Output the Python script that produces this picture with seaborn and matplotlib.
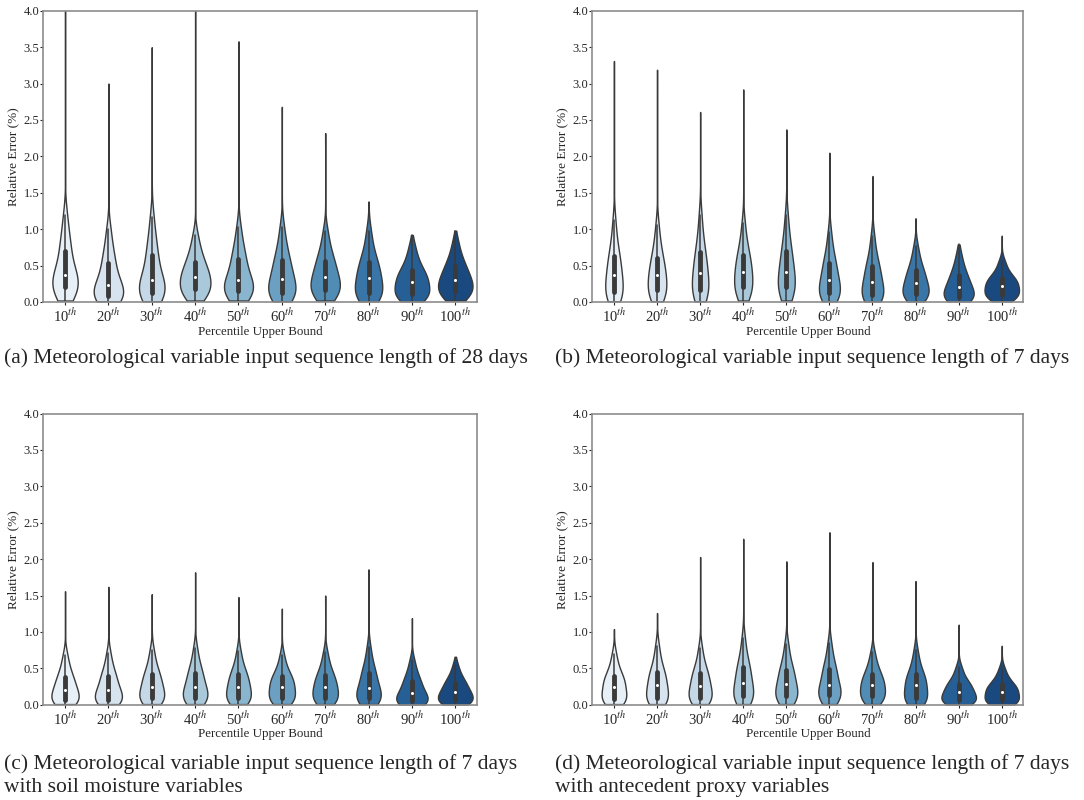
import numpy as np
import pandas as pd
import seaborn as sns
import matplotlib.pyplot as plt

# percentile buckets on the x axis
percentiles = ["10", "20", "30", "40", "50", "60", "70", "80", "90", "100"]
tick_labels = [p + r"$^{th}$" for p in percentiles]

# relative error (%) per bucket: 20 quantile levels
# (2.5%, 7.5%, ... 97.5%) followed by the single largest error
err_28d = [
    [0.02, 0.07, 0.11, 0.15, 0.18, 0.20, 0.24, 0.28, 0.31, 0.34, 0.37, 0.41, 0.47, 0.54, 0.62, 0.70, 0.78, 0.88, 1.00, 1.20, 4.1],
    [0.01, 0.03, 0.04, 0.06, 0.07, 0.08, 0.11, 0.15, 0.18, 0.21, 0.24, 0.28, 0.34, 0.41, 0.47, 0.54, 0.61, 0.70, 0.82, 1.00, 3.0],
    [0.01, 0.04, 0.07, 0.10, 0.12, 0.13, 0.17, 0.21, 0.24, 0.27, 0.30, 0.35, 0.42, 0.50, 0.57, 0.65, 0.73, 0.83, 0.96, 1.17, 3.5],
    [0.02, 0.06, 0.10, 0.14, 0.16, 0.18, 0.22, 0.26, 0.29, 0.32, 0.35, 0.38, 0.42, 0.46, 0.50, 0.55, 0.61, 0.68, 0.77, 0.92, 4.1],
    [0.02, 0.05, 0.09, 0.12, 0.14, 0.15, 0.19, 0.22, 0.25, 0.28, 0.30, 0.35, 0.41, 0.47, 0.53, 0.59, 0.66, 0.74, 0.85, 1.03, 3.58],
    [0.01, 0.04, 0.07, 0.10, 0.12, 0.13, 0.17, 0.21, 0.25, 0.29, 0.32, 0.37, 0.42, 0.48, 0.53, 0.58, 0.65, 0.74, 0.85, 1.03, 2.68],
    [0.02, 0.06, 0.10, 0.13, 0.15, 0.17, 0.21, 0.25, 0.28, 0.31, 0.34, 0.38, 0.43, 0.48, 0.53, 0.57, 0.63, 0.71, 0.81, 0.97, 2.32],
    [0.01, 0.04, 0.07, 0.09, 0.11, 0.12, 0.17, 0.22, 0.26, 0.30, 0.33, 0.37, 0.42, 0.47, 0.51, 0.55, 0.61, 0.70, 0.81, 0.98, 1.38],
    [0.01, 0.04, 0.06, 0.08, 0.10, 0.11, 0.15, 0.19, 0.22, 0.25, 0.28, 0.31, 0.34, 0.37, 0.40, 0.44, 0.49, 0.56, 0.64, 0.77, 0.92],
    [0.02, 0.06, 0.09, 0.12, 0.14, 0.15, 0.19, 0.22, 0.25, 0.28, 0.30, 0.33, 0.37, 0.41, 0.45, 0.49, 0.54, 0.61, 0.69, 0.83, 0.98],
]
err_7d = [
    [0.01, 0.04, 0.07, 0.10, 0.12, 0.14, 0.19, 0.24, 0.29, 0.33, 0.37, 0.42, 0.47, 0.53, 0.58, 0.63, 0.70, 0.80, 0.92, 1.12, 3.31],
    [0.01, 0.05, 0.08, 0.12, 0.14, 0.16, 0.21, 0.26, 0.30, 0.34, 0.37, 0.41, 0.46, 0.51, 0.56, 0.61, 0.68, 0.77, 0.88, 1.06, 3.19],
    [0.01, 0.05, 0.08, 0.12, 0.14, 0.16, 0.22, 0.27, 0.32, 0.36, 0.40, 0.45, 0.51, 0.57, 0.62, 0.68, 0.76, 0.86, 0.99, 1.20, 2.61],
    [0.02, 0.07, 0.11, 0.15, 0.18, 0.21, 0.26, 0.30, 0.34, 0.38, 0.41, 0.46, 0.51, 0.56, 0.60, 0.65, 0.72, 0.80, 0.91, 1.09, 2.92],
    [0.02, 0.07, 0.11, 0.15, 0.18, 0.20, 0.25, 0.30, 0.34, 0.38, 0.41, 0.47, 0.53, 0.59, 0.64, 0.70, 0.78, 0.88, 1.00, 1.20, 2.37],
    [0.01, 0.04, 0.07, 0.09, 0.11, 0.12, 0.16, 0.20, 0.24, 0.27, 0.30, 0.35, 0.40, 0.45, 0.50, 0.54, 0.60, 0.69, 0.79, 0.96, 2.05],
    [0.01, 0.03, 0.05, 0.07, 0.08, 0.09, 0.13, 0.17, 0.21, 0.25, 0.28, 0.32, 0.37, 0.42, 0.46, 0.50, 0.56, 0.64, 0.75, 0.91, 1.73],
    [0.01, 0.04, 0.06, 0.08, 0.10, 0.11, 0.14, 0.17, 0.20, 0.23, 0.26, 0.29, 0.33, 0.37, 0.40, 0.44, 0.49, 0.56, 0.64, 0.77, 1.15],
    [0.01, 0.02, 0.04, 0.05, 0.06, 0.07, 0.10, 0.13, 0.15, 0.18, 0.20, 0.23, 0.27, 0.30, 0.33, 0.37, 0.42, 0.48, 0.55, 0.67, 0.79],
    [0.01, 0.04, 0.06, 0.08, 0.09, 0.10, 0.13, 0.16, 0.18, 0.20, 0.22, 0.24, 0.27, 0.29, 0.31, 0.33, 0.36, 0.41, 0.47, 0.56, 0.91],
]
err_7d_soil = [
    [0.01, 0.02, 0.04, 0.05, 0.06, 0.07, 0.10, 0.13, 0.16, 0.19, 0.21, 0.24, 0.28, 0.31, 0.35, 0.38, 0.43, 0.49, 0.57, 0.69, 1.56],
    [0.01, 0.02, 0.04, 0.05, 0.06, 0.07, 0.10, 0.13, 0.15, 0.18, 0.20, 0.24, 0.28, 0.32, 0.36, 0.39, 0.44, 0.50, 0.58, 0.71, 1.62],
    [0.01, 0.03, 0.05, 0.07, 0.08, 0.09, 0.12, 0.16, 0.19, 0.22, 0.24, 0.28, 0.32, 0.36, 0.39, 0.42, 0.47, 0.54, 0.62, 0.75, 1.52],
    [0.01, 0.03, 0.05, 0.07, 0.09, 0.10, 0.13, 0.16, 0.19, 0.22, 0.24, 0.28, 0.32, 0.37, 0.41, 0.44, 0.49, 0.56, 0.64, 0.78, 1.82],
    [0.01, 0.03, 0.05, 0.07, 0.09, 0.10, 0.13, 0.17, 0.20, 0.23, 0.25, 0.29, 0.33, 0.36, 0.39, 0.42, 0.47, 0.53, 0.61, 0.74, 1.48],
    [0.01, 0.03, 0.05, 0.07, 0.09, 0.10, 0.14, 0.17, 0.20, 0.23, 0.25, 0.28, 0.31, 0.34, 0.37, 0.39, 0.43, 0.49, 0.56, 0.68, 1.32],
    [0.01, 0.03, 0.05, 0.07, 0.09, 0.10, 0.14, 0.17, 0.20, 0.23, 0.25, 0.28, 0.32, 0.35, 0.38, 0.41, 0.46, 0.52, 0.60, 0.72, 1.50],
    [0.01, 0.03, 0.05, 0.07, 0.08, 0.09, 0.12, 0.16, 0.19, 0.21, 0.23, 0.27, 0.32, 0.37, 0.41, 0.44, 0.49, 0.56, 0.65, 0.79, 1.86],
    [0.005, 0.01, 0.02, 0.03, 0.04, 0.05, 0.07, 0.10, 0.12, 0.14, 0.16, 0.19, 0.23, 0.27, 0.30, 0.33, 0.37, 0.43, 0.50, 0.61, 1.19],
    [0.005, 0.02, 0.03, 0.04, 0.05, 0.06, 0.09, 0.11, 0.13, 0.15, 0.17, 0.19, 0.22, 0.25, 0.28, 0.30, 0.34, 0.38, 0.44, 0.54, 0.66],
]
err_7d_proxy = [
    [0.01, 0.03, 0.05, 0.06, 0.07, 0.08, 0.12, 0.16, 0.19, 0.22, 0.25, 0.28, 0.31, 0.34, 0.37, 0.39, 0.44, 0.50, 0.58, 0.70, 1.04],
    [0.01, 0.03, 0.05, 0.07, 0.08, 0.09, 0.13, 0.17, 0.21, 0.24, 0.27, 0.31, 0.35, 0.39, 0.42, 0.45, 0.50, 0.58, 0.67, 0.81, 1.26],
    [0.01, 0.03, 0.05, 0.07, 0.09, 0.10, 0.14, 0.17, 0.20, 0.23, 0.26, 0.30, 0.34, 0.38, 0.41, 0.44, 0.49, 0.56, 0.64, 0.78, 2.03],
    [0.01, 0.04, 0.07, 0.09, 0.11, 0.12, 0.16, 0.20, 0.24, 0.27, 0.30, 0.35, 0.40, 0.45, 0.49, 0.52, 0.58, 0.66, 0.76, 0.92, 2.28],
    [0.01, 0.04, 0.07, 0.09, 0.11, 0.12, 0.16, 0.19, 0.22, 0.25, 0.28, 0.32, 0.37, 0.41, 0.45, 0.48, 0.53, 0.61, 0.70, 0.84, 1.97],
    [0.01, 0.04, 0.07, 0.10, 0.12, 0.13, 0.16, 0.19, 0.22, 0.25, 0.27, 0.32, 0.37, 0.42, 0.46, 0.49, 0.54, 0.62, 0.71, 0.85, 2.37],
    [0.01, 0.04, 0.07, 0.09, 0.11, 0.12, 0.16, 0.19, 0.22, 0.25, 0.27, 0.30, 0.33, 0.36, 0.39, 0.42, 0.47, 0.53, 0.60, 0.72, 1.96],
    [0.01, 0.03, 0.05, 0.07, 0.08, 0.09, 0.13, 0.17, 0.21, 0.24, 0.27, 0.30, 0.33, 0.36, 0.39, 0.42, 0.47, 0.54, 0.62, 0.75, 1.70],
    [0.005, 0.02, 0.03, 0.04, 0.05, 0.06, 0.09, 0.11, 0.13, 0.15, 0.17, 0.19, 0.22, 0.25, 0.27, 0.29, 0.32, 0.37, 0.43, 0.52, 1.10],
    [0.005, 0.02, 0.03, 0.04, 0.05, 0.06, 0.09, 0.12, 0.14, 0.16, 0.18, 0.20, 0.22, 0.24, 0.26, 0.28, 0.31, 0.36, 0.41, 0.50, 0.81],
]

captions = [
    "(a) Meteorological variable input sequence length of 28 days",
    "(b) Meteorological variable input sequence length of 7 days",
    "(c) Meteorological variable input sequence length of 7 days\nwith soil moisture variables",
    "(d) Meteorological variable input sequence length of 7 days\nwith antecedent proxy variables",
]

# each quantile level stands for 5% of the errors; the maximum is one error
PER_LEVEL = 20


def to_frame(samples):
    rows = []
    for label, vals in zip(tick_labels, samples):
        obs = list(np.repeat(vals[:-1], PER_LEVEL)) + [vals[-1]]
        for v in obs:
            rows.append({"pct": label, "err": v})
    return pd.DataFrame(rows)


def iqr_bandwidth(kde):
    # kernel width tied to the spread of the bulk, not to the long tail
    d = kde.dataset[0]
    q1, q3 = np.percentile(d, [25, 75])
    return 0.35 * (q3 - q1) / d.std(ddof=1)


sns.set_style("ticks")
plt.rcParams["font.family"] = ["Liberation Serif", "DejaVu Serif"]
plt.rcParams["mathtext.fontset"] = "stix"

fig = plt.figure(figsize=(10.84, 8.0), dpi=100)

# axes boxes in figure fractions: left, bottom, width, height
boxes = [
    (0.040, 0.6225, 0.400, 0.364),
    (0.5465, 0.6225, 0.3975, 0.364),
    (0.040, 0.119, 0.400, 0.364),
    (0.5465, 0.119, 0.3975, 0.364),
]
caption_pos = [(0.004, 0.552), (0.512, 0.552), (0.004, 0.031), (0.512, 0.031)]
panels = [err_28d, err_7d, err_7d_soil, err_7d_proxy]

for samples, box, cap, cpos in zip(panels, boxes, captions, caption_pos):
    ax = fig.add_axes(box)
    df = to_frame(samples)
    sns.violinplot(data=df, x="pct", y="err", hue="pct", palette="Blues",
                   legend=False, cut=0, linewidth=1, linecolor="#3a3a3a",
                   common_norm=True, bw_method=iqr_bandwidth,
                   inner_kws=dict(box_width=3.5, whis_width=1.1, marker="."),
                   ax=ax)
    ax.set_ylim(0, 4.0)
    ax.set_yticks([0, 0.5, 1.0, 1.5, 2.0, 2.5, 3.0, 3.5, 4.0])
    ax.set_xlabel("Percentile Upper Bound", fontsize=9.3, labelpad=1)
    ax.set_ylabel("Relative Error (%)", fontsize=9.5, labelpad=3)
    ax.tick_params(axis="y", labelsize=9, length=2, width=0.8, pad=1)
    ax.tick_params(axis="x", labelsize=10.5, length=2, width=0.8, pad=1)
    for s in ax.spines.values():
        s.set_color("#8c8c8c")
        s.set_linewidth(1.2)
        s.set_visible(True)
    fig.text(cpos[0], cpos[1], cap, fontsize=15.5, ha="left", va="center",
             linespacing=1.3)

fig.savefig("out.png", dpi=100)
